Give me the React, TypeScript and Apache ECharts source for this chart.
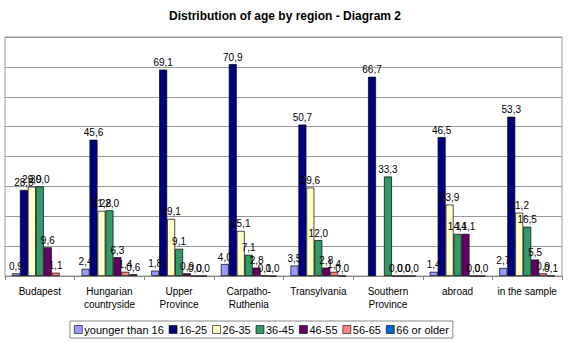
import React, { useEffect, useRef } from "react";
import * as echarts from "echarts";

const categories = [
  "Budapest",
  "Hungarian\ncountryside",
  "Upper\nProvince",
  "Carpatho-\nRuthenia",
  "Transylvania",
  "Southern\nProvince",
  "abroad",
  "in the sample",
];

const seriesNames = ["younger than 16", "16-25", "26-35", "36-45", "46-55", "56-65", "66 or older"];
const seriesColors = ["#9999FF", "#000080", "#FFFFCC", "#339966", "#660066", "#FF8080", "#0066CC"];

const youngerThan16 = [0.9, 2.4, 1.8, 4.0, 3.5, null, 1.4, 2.7];
const age16to25 = [28.8, 45.6, 69.1, 70.9, 50.7, 66.7, 46.5, 53.3];
const age26to35 = [29.9, 21.8, 19.1, 15.1, 29.6, null, 23.9, 21.2];
const age36to45 = [30.0, 22.0, 9.1, 7.1, 12.0, 33.3, 14.1, 16.5];
const age46to55 = [9.6, 6.3, 0.9, 2.8, 2.8, 0.0, 14.1, 5.5];
const age56to65 = [1.1, 1.4, 0.0, 0.1, 1.4, 0.0, 0.0, 0.9];
const age66plus = [null, 0.6, 0.0, 0.0, 0.0, 0.0, 0.0, 0.1];

const seriesData = [youngerThan16, age16to25, age26to35, age36to45, age46to55, age56to65, age66plus];

export default function App() {
  const ref = useRef<HTMLDivElement>(null);
  useEffect(() => {
    if (!ref.current) return;
    const chart = echarts.init(ref.current, null, { renderer: "svg" });
    chart.setOption({
      animation: false,
      backgroundColor: "#ffffff",
      textStyle: { fontFamily: "Arial, Liberation Sans, sans-serif" },
      title: {
        text: "Distribution of age by region - Diagram 2",
        left: "center",
        top: 5,
        textStyle: { fontSize: 12, fontWeight: "bold", color: "#000", fontFamily: "Arial, Liberation Sans, sans-serif" },
      },
      legend: {
        left: 70,
        top: 321,
        itemWidth: 8,
        itemHeight: 8,
        itemGap: 5,
        padding: [3, 4, 3, 4],
        borderColor: "#888",
        borderWidth: 1,
        icon: "rect",
        textStyle: { fontSize: 11, color: "#000", padding: [0, 0, 0, -3] },
        data: seriesNames.map((n) => ({ name: n, itemStyle: { borderColor: "#000", borderWidth: 0.6 } })),
      },
      grid: {
        left: 5,
        right: 8,
        top: 37,
        bottom: 66,
        show: true,
        borderColor: "#999",
        borderWidth: 1,
        backgroundColor: "transparent",
      },
      xAxis: {
        type: "category",
        data: categories,
        axisLine: { lineStyle: { color: "#888" } },
        axisTick: { show: true, length: 4, lineStyle: { color: "#888" } },
        axisLabel: { fontSize: 10, color: "#000", lineHeight: 13, margin: 9, interval: 0 },
      },
      yAxis: {
        type: "value",
        min: 0,
        max: 80,
        interval: 10,
        axisLabel: { show: false },
        axisLine: { show: false },
        axisTick: { show: false },
        splitLine: { lineStyle: { color: "#999", width: 1 } },
      },
      series: seriesNames.map((name, i) => ({
        name,
        type: "bar",
        data: seriesData[i],
        barGap: "0%",
        barCategoryGap: "20%",
        itemStyle: { color: seriesColors[i], borderColor: "#000", borderWidth: 0.7 },
        label: {
          show: true,
          position: "top",
          distance: 2,
          fontSize: 10,
          color: "#000",
          formatter: (p: any) => (p.value == null ? "" : Number(p.value).toFixed(1).replace(".", ",")),
        },
      })),
    });
    return () => chart.dispose();
  }, []);
  return <div ref={ref} style={{ position: "fixed", left: 0, top: 0, width: 570, height: 342 }} />;
}
